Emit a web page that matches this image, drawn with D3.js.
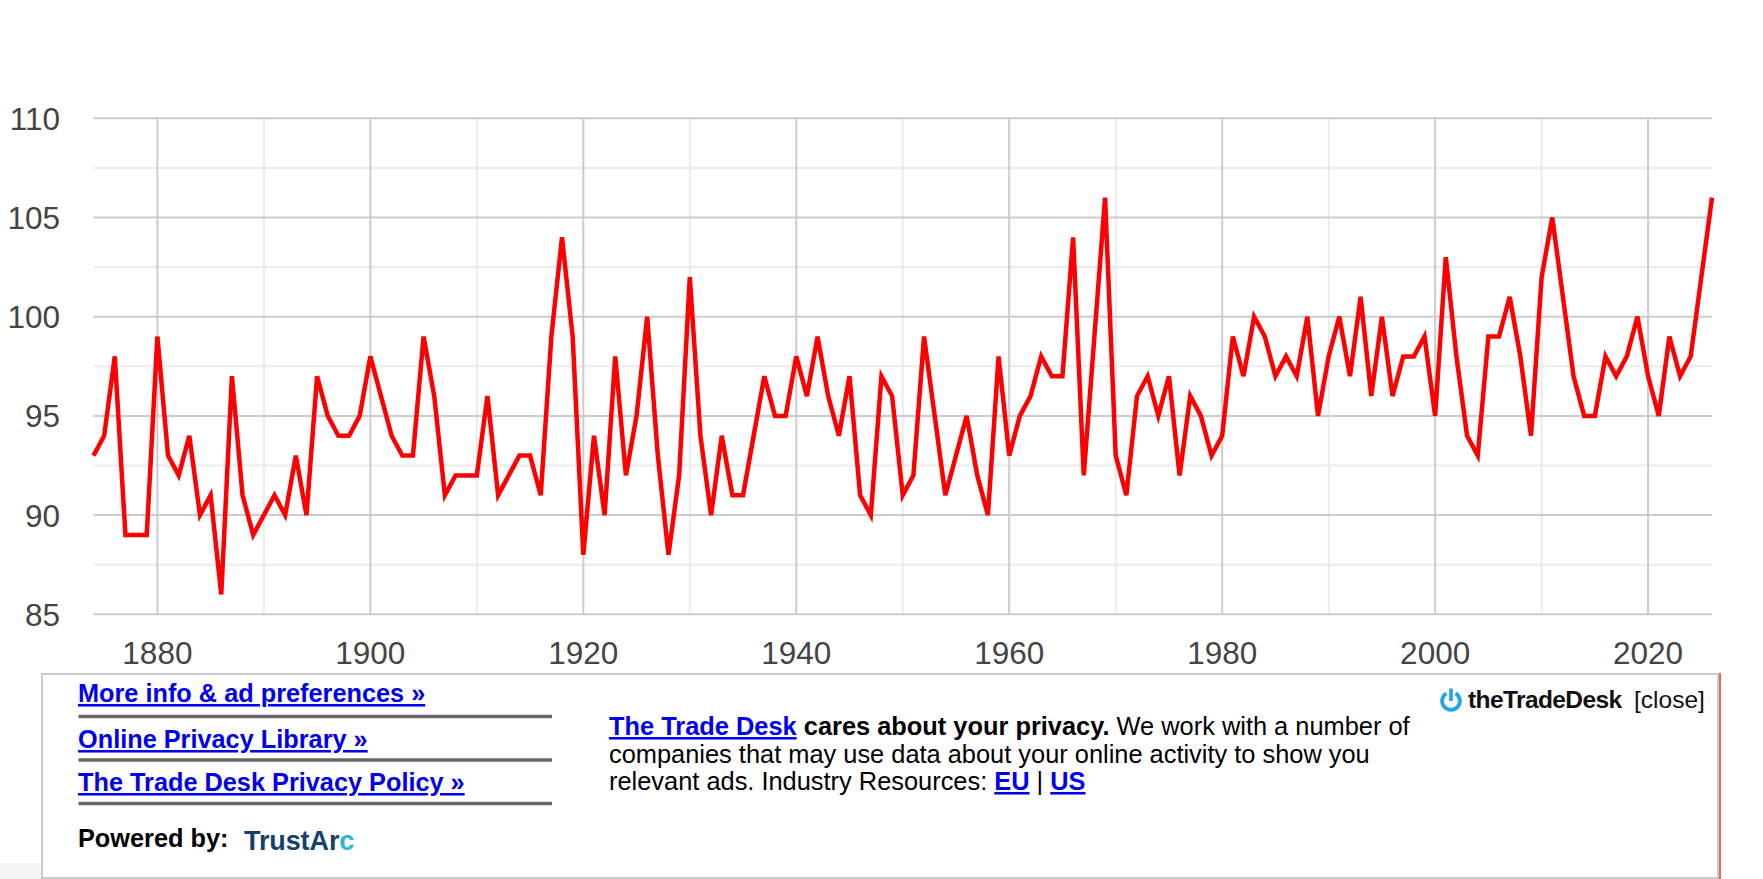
<!DOCTYPE html>
<html>
<head>
<meta charset="utf-8">
<script src="https://cdn.jsdelivr.net/npm/d3@7"></script>
<style>
  body { margin: 0; background: #fff; }
  svg { display: block; font-family: "Liberation Sans", Arial, sans-serif; }
</style>
</head>
<body>
<svg id="chart" width="1763" height="879"></svg>
<script>
// yearly values, 1874 .. 2026
var firstYear = 1874;
var values = [
  93, 94, 98, 89, 89, 89, 99, 93, 92, 94, 90, 91, 86, 97, 91, 89, 90, 91, 90, 93,   // 1874-1893
  90, 97, 95, 94, 94, 95, 98, 96, 94, 93, 93, 99, 96, 91, 92, 92, 92, 96, 91, 92,   // 1894-1913
  93, 93, 91, 99, 104, 99, 88, 94, 90, 98, 92, 95, 100, 93, 88, 92, 102, 94, 90, 94, // 1914-1933
  91, 91, 94, 97, 95, 95, 98, 96, 99, 96, 94, 97, 91, 90, 97, 96, 91, 92, 99, 95,   // 1934-1953
  91, 93, 95, 92, 90, 98, 93, 95, 96, 98, 97, 97, 104, 92, 99, 106, 93, 91, 96, 97, // 1954-1973
  95, 97, 92, 96, 95, 93, 94, 99, 97, 100, 99, 97, 98, 97, 100, 95, 98, 100, 97, 101, // 1974-1993
  96, 100, 96, 98, 98, 99, 95, 103, 98, 94, 93, 99, 99, 101, 98, 94, 102, 105, 101, 97, // 1994-2013
  95, 95, 98, 97, 98, 100, 97, 95, 99, 97, 98, 102, 106                              // 2014-2026
];
var years = d3.range(firstYear, firstYear + values.length);
var yTicks = [85, 90, 95, 100, 105, 110];
var yMinor = [87.5, 92.5, 97.5, 102.5, 107.5];
var xTicks = [1880, 1900, 1920, 1940, 1960, 1980, 2000, 2020];
var xMinor = [1890, 1910, 1930, 1950, 1970, 1990, 2010];

var svg = d3.select("#chart");

var x = d3.scaleLinear().domain([1874, 2026]).range([93.5, 1712]);
var y = d3.scaleLinear().domain([85, 110]).range([614.3, 118.3]);

var grid = svg.append("g");
// minor grid
grid.selectAll(".ymin").data(yMinor).enter().append("line")
    .attr("x1", x.range()[0]).attr("x2", x.range()[1])
    .attr("y1", d => y(d)).attr("y2", d => y(d))
    .attr("stroke", "#ebebeb").attr("stroke-width", 2);
grid.selectAll(".xmin").data(xMinor).enter().append("line")
    .attr("x1", d => x(d)).attr("x2", d => x(d))
    .attr("y1", y(110)).attr("y2", y(85))
    .attr("stroke", "#ebebeb").attr("stroke-width", 2);
// major grid
grid.selectAll(".ymaj").data(yTicks).enter().append("line")
    .attr("x1", x.range()[0]).attr("x2", x.range()[1])
    .attr("y1", d => y(d)).attr("y2", d => y(d))
    .attr("stroke", "#cccccc").attr("stroke-width", 2);
grid.selectAll(".xmaj").data(xTicks).enter().append("line")
    .attr("x1", d => x(d)).attr("x2", d => x(d))
    .attr("y1", y(110)).attr("y2", y(85))
    .attr("stroke", "#cccccc").attr("stroke-width", 2);

// axis labels
svg.append("g").selectAll("text").data(yTicks).enter().append("text")
    .attr("x", 60).attr("y", d => y(d) + 11.5)
    .attr("text-anchor", "end")
    .attr("font-size", 31.5).attr("fill", "#444")
    .text(d => d);
svg.append("g").selectAll("text").data(xTicks).enter().append("text")
    .attr("x", d => x(d)).attr("y", 664)
    .attr("text-anchor", "middle")
    .attr("font-size", 31.5).attr("fill", "#444")
    .text(d => d);

// the series
var line = d3.line()
    .x((d, i) => x(years[i]))
    .y(d => y(d));
svg.append("path")
    .datum(values)
    .attr("d", line)
    .attr("fill", "none")
    .attr("stroke", "#ff0000")
    .attr("stroke-width", 4.5)
    .attr("stroke-linejoin", "miter");

// privacy overlay
var ov = svg.append("g");
ov.append("rect").attr("x", 0).attr("y", 863).attr("width", 42).attr("height", 16).attr("fill", "#f5f5f5");
ov.append("rect").attr("x", 42).attr("y", 674).attr("width", 1676).attr("height", 204)
    .attr("fill", "#fff").attr("stroke", "#cccccc").attr("stroke-width", 2);
ov.append("line").attr("x1", 1720).attr("x2", 1720).attr("y1", 673).attr("y2", 879)
    .attr("stroke", "#e53030").attr("stroke-width", 1.5);

var links = ["More info & ad preferences \u00bb", "Online Privacy Library \u00bb", "The Trade Desk Privacy Policy \u00bb"];
var linkBase = [702, 748, 791];
var sepY = [716.5, 760, 803.5];
ov.selectAll(".lnk").data(links).enter().append("text")
    .attr("x", 78).attr("y", (d, i) => linkBase[i])
    .attr("font-size", 25.3).attr("font-weight", "bold")
    .attr("fill", "#0000ee").attr("text-decoration", "underline")
    .text(d => d);
ov.selectAll(".sep").data(sepY).enter().append("line")
    .attr("x1", 78.5).attr("x2", 552).attr("y1", d => d).attr("y2", d => d)
    .attr("stroke", "#666").attr("stroke-width", 3.3);

ov.append("text").attr("x", 78).attr("y", 847)
    .attr("font-size", 25.3).attr("font-weight", "bold").attr("fill", "#000")
    .text("Powered by:");
var ta = ov.append("text").attr("x", 244).attr("y", 850)
    .attr("font-size", 27).attr("font-weight", "bold").attr("letter-spacing", -0.1);
ta.append("tspan").attr("fill", "#173f6b").text("TrustAr");
ta.append("tspan").attr("fill", "#2bb8d0").text("c");

// paragraph
var pSize = 25.4;
var p1 = ov.append("text").attr("x", 609).attr("y", 735).attr("font-size", pSize).attr("fill", "#000");
p1.append("tspan").attr("font-weight", "bold").attr("fill", "#0000ee").attr("text-decoration", "underline").text("The Trade Desk");
p1.append("tspan").attr("font-weight", "bold").text(" cares about your privacy.");
p1.append("tspan").text(" We work with a number of");
ov.append("text").attr("x", 609).attr("y", 762.5).attr("font-size", pSize).attr("fill", "#000")
    .text("companies that may use data about your online activity to show you");
var p3 = ov.append("text").attr("x", 609).attr("y", 790).attr("font-size", pSize).attr("fill", "#000");
p3.append("tspan").text("relevant ads. Industry Resources: ");
p3.append("tspan").attr("font-weight", "bold").attr("fill", "#0000ee").attr("text-decoration", "underline").text("EU");
p3.append("tspan").text(" | ");
p3.append("tspan").attr("font-weight", "bold").attr("fill", "#0000ee").attr("text-decoration", "underline").text("US");

// trade desk logo + close
var arc = d3.arc().innerRadius(7).outerRadius(10.8).startAngle(0.55).endAngle(2 * Math.PI - 0.55);
ov.append("path").attr("d", arc()).attr("transform", "translate(1451,701)").attr("fill", "#1ea7e1");
ov.append("rect").attr("x", 1449.2).attr("y", 688.5).attr("width", 3.6).attr("height", 12.5).attr("fill", "#1ea7e1");
ov.append("text").attr("x", 1468).attr("y", 707.5)
    .attr("font-size", 24.5).attr("font-weight", "bold").attr("letter-spacing", -0.6).attr("fill", "#111")
    .text("theTradeDesk");
ov.append("text").attr("x", 1634).attr("y", 708)
    .attr("font-size", 24.5).attr("fill", "#111")
    .text("[close]");
</script>
</body>
</html>
